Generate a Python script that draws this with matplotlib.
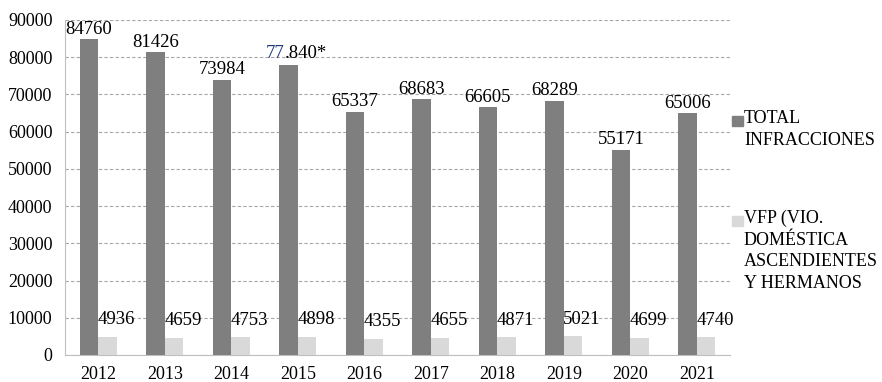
import matplotlib.pyplot as plt
from matplotlib.patches import Rectangle
import numpy as np

years = ['2012', '2013', '2014', '2015', '2016', '2017', '2018', '2019', '2020', '2021']
total_infracciones = [84760, 81426, 73984, 77840, 65337, 68683, 66605, 68289, 55171, 65006]
vfp = [4936, 4659, 4753, 4898, 4355, 4655, 4871, 5021, 4699, 4740]
total_labels = ['84760', '81426', '73984', '77.840*', '65337', '68683', '66605', '68289', '55171', '65006']

dark = '#7f7f7f'
light = '#d9d9d9'

plt.rcParams['font.family'] = ['Liberation Serif', 'DejaVu Serif']

fig = plt.figure(figsize=(8.82, 3.82), dpi=100)
ax = fig.add_axes([0.0737, 0.0707, 0.754, 0.877])

x = np.arange(len(years))
w = 0.28
ax.bar(x - w / 2, total_infracciones, w, color=dark, zorder=3)
ax.bar(x + w / 2, vfp, w, color=light, zorder=3)

ax.set_xlim(-0.5, len(years) - 0.5)
ax.set_ylim(0, 90000)

# value labels
renderer = fig.canvas.get_renderer()
for i, v in enumerate(total_infracciones):
    lab = total_labels[i]
    if lab.startswith('77.'):
        # "77" in blue, rest of the label in black right after it
        t1 = ax.annotate(lab[:2], (x[i] - w / 2, v), xytext=(-16, 2), textcoords='offset points',
                         ha='left', va='bottom', fontsize=13.5, color='#1f3a78', zorder=4)
        bb = t1.get_window_extent(renderer)
        ax.annotate(lab[2:], (bb.x1, bb.y0), xycoords='figure pixels',
                    ha='left', va='bottom', fontsize=13.5, color='black', zorder=4)
    else:
        ax.annotate(lab, (x[i] - w / 2, v), xytext=(0, 1), textcoords='offset points',
                    ha='center', va='bottom', fontsize=13.5, zorder=4)
for i, v in enumerate(vfp):
    ax.annotate(str(v), (x[i] + w / 2, v), xytext=(6.5, 6), textcoords='offset points',
                ha='center', va='bottom', fontsize=13.5, zorder=4)

ax.set_yticks(np.arange(0, 90001, 10000))
ax.set_xticks(x)
ax.set_xticklabels(years)
ax.tick_params(axis='both', length=0, labelsize=13)
ax.tick_params(axis='y', pad=9)
ax.tick_params(axis='x', pad=8)

ax.yaxis.grid(True, linestyle=(0, (3, 2)), color='#a6a6a6', linewidth=0.8, zorder=0)
for s in ['top', 'right']:
    ax.spines[s].set_visible(False)
ax.spines['left'].set_color('#bfbfbf')
ax.spines['bottom'].set_color('#bfbfbf')

# legend on the right
fig.patches.append(Rectangle((732 / 882, 1 - 126 / 382), 11 / 882, 10 / 382,
                             transform=fig.transFigure, color=dark, figure=fig))
fig.text(744 / 882, 1 - 110 / 382, 'TOTAL\nINFRACCIONES', fontsize=13, va='top',
         ha='left', linespacing=1.35)
fig.patches.append(Rectangle((732 / 882, 1 - 226 / 382), 11 / 882, 10 / 382,
                             transform=fig.transFigure, color=light, figure=fig))
fig.text(744 / 882, 1 - 210 / 382, 'VFP (VIO.\nDOMÉSTICA\nASCENDIENTES\nY HERMANOS',
         fontsize=13, va='top', ha='left', linespacing=1.35)

plt.savefig('out.png', dpi=100)
